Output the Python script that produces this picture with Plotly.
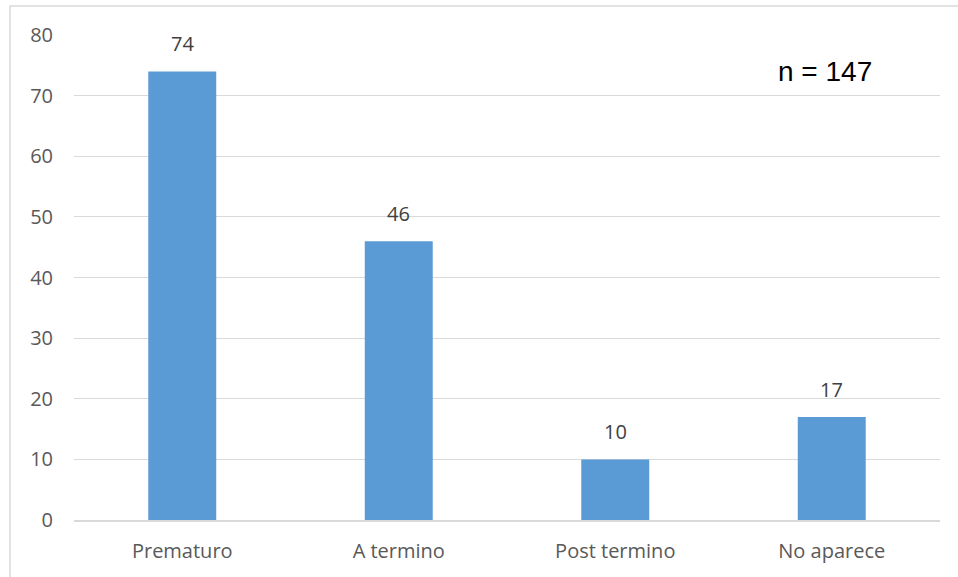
import plotly.graph_objects as go

categories = ["Prematuro", "A termino", "Post termino", "No aparece"]
values = [74, 46, 10, 17]
y_ticks = [0, 10, 20, 30, 40, 50, 60, 70, 80]
note = "n = 147"

W, H = 958, 577
L, R, T, B = 74, 18, 35, 57
pw, ph = W - L - R, H - T - B

def px_x(p):
    return (p - L) / pw

def px_y(p):
    return (H - B - p) / ph

fig = go.Figure(go.Bar(
    x=categories, y=values,
    marker=dict(color="#5B9BD5", line=dict(width=0)),
    width=0.314, cliponaxis=False,
))

annotations = [dict(x=c, y=v, xref="x", yref="y", text=str(v), showarrow=False,
                    xanchor="center", yanchor="bottom", yshift=12,
                    font=dict(family="Open Sans", size=20, color="#404040"))
               for c, v in zip(categories, values)]
annotations.append(dict(text=note, xref="paper", yref="paper", x=px_x(825), y=px_y(72),
                        showarrow=False, xanchor="center", yanchor="middle",
                        font=dict(family="Liberation Sans", size=28, color="#000000")))

fig.update_layout(
    width=W, height=H,
    margin=dict(l=L, r=R, t=T, b=B, pad=0),
    paper_bgcolor="white", plot_bgcolor="white",
    showlegend=False,
    font=dict(family="Open Sans", size=20, color="#595959"),
    xaxis=dict(showgrid=False, showline=True, linecolor="#D9D9D9", linewidth=1.5,
               ticks="", ticklabelstandoff=12, tickfont=dict(size=20, color="#595959")),
    yaxis=dict(range=[0, 80], tickvals=y_ticks, showgrid=True, gridcolor="#D9D9D9",
               gridwidth=1.3, zeroline=False, showline=False, ticks="",
               ticklabelstandoff=20, tickfont=dict(size=20, color="#595959")),
    shapes=[dict(type="rect", xref="paper", yref="paper",
                 x0=px_x(10), x1=px_x(990), y0=px_y(620), y1=px_y(6),
                 line=dict(color="#D9D9D9", width=1.5), layer="below")],
    annotations=annotations,
)

fig.write_html("out.html")
